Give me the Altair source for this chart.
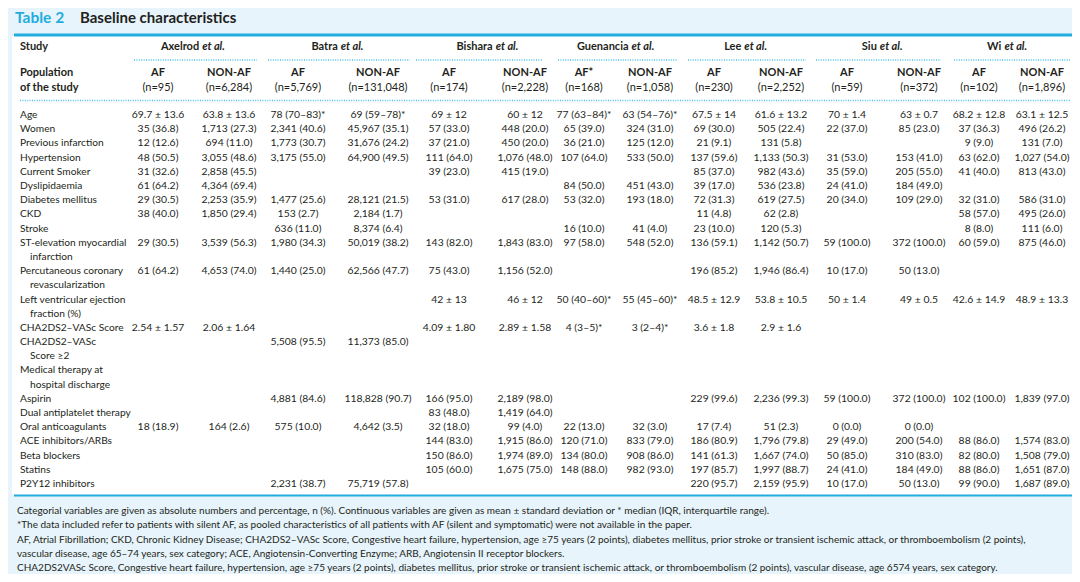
import altair as alt
import pandas as pd

# ---------------- data ----------------
title_number = "Table 2"
title_text = "Baseline characteristics"

studies = ["Axelrod", "Batra", "Bishara", "Guenancia", "Lee", "Siu", "Wi"]
study_suffix = "et al."
af_headers = ["AF", "AF", "AF", "AF*", "AF", "AF", "AF"]
non_af_header = "NON-AF"
n_af = ["(n=95)", "(n=5,769)", "(n=174)", "(n=168)", "(n=230)", "(n=59)", "(n=102)"]
n_non_af = ["(n=6,284)", "(n=131,048)", "(n=2,228)", "(n=1,058)", "(n=2,252)", "(n=372)", "(n=1,896)"]

row_labels = [
    ["Age"], ["Women"], ["Previous infarction"], ["Hypertension"], ["Current Smoker"],
    ["Dyslipidaemia"], ["Diabetes mellitus"], ["CKD"], ["Stroke"],
    ["ST-elevation myocardial", "infarction"],
    ["Percutaneous coronary", "revascularization"],
    ["Left ventricular ejection", "fraction (%)"],
    ["CHA2DS2–VASc Score"],
    ["CHA2DS2–VASc", "Score ≥2"],
    ["Medical therapy at", "hospital discharge"],
    ["Aspirin"], ["Dual antiplatelet therapy"], ["Oral anticoagulants"],
    ["ACE inhibitors/ARBs"], ["Beta blockers"], ["Statins"], ["P2Y12 inhibitors"],
]

axelrod_af = ["69.7 ± 13.6", "35 (36.8)", "12 (12.6)", "48 (50.5)", "31 (32.6)", "61 (64.2)", "29 (30.5)", "38 (40.0)", "", "29 (30.5)", "61 (64.2)", "", "2.54 ± 1.57", "", "", "", "", "18 (18.9)", "", "", "", ""]
axelrod_non = ["63.8 ± 13.6", "1,713 (27.3)", "694 (11.0)", "3,055 (48.6)", "2,858 (45.5)", "4,364 (69.4)", "2,253 (35.9)", "1,850 (29.4)", "", "3,539 (56.3)", "4,653 (74.0)", "", "2.06 ± 1.64", "", "", "", "", "164 (2.6)", "", "", "", ""]
batra_af = ["78 (70–83)*", "2,341 (40.6)", "1,773 (30.7)", "3,175 (55.0)", "", "", "1,477 (25.6)", "153 (2.7)", "636 (11.0)", "1,980 (34.3)", "1,440 (25.0)", "", "", "5,508 (95.5)", "", "4,881 (84.6)", "", "575 (10.0)", "", "", "", "2,231 (38.7)"]
batra_non = ["69 (59–78)*", "45,967 (35.1)", "31,676 (24.2)", "64,900 (49.5)", "", "", "28,121 (21.5)", "2,184 (1.7)", "8,374 (6.4)", "50,019 (38.2)", "62,566 (47.7)", "", "", "11,373 (85.0)", "", "118,828 (90.7)", "", "4,642 (3.5)", "", "", "", "75,719 (57.8)"]
bishara_af = ["69 ± 12", "57 (33.0)", "37 (21.0)", "111 (64.0)", "39 (23.0)", "", "53 (31.0)", "", "", "143 (82.0)", "75 (43.0)", "42 ± 13", "4.09 ± 1.80", "", "", "166 (95.0)", "83 (48.0)", "32 (18.0)", "144 (83.0)", "150 (86.0)", "105 (60.0)", ""]
bishara_non = ["60 ± 12", "448 (20.0)", "450 (20.0)", "1,076 (48.0)", "415 (19.0)", "", "617 (28.0)", "", "", "1,843 (83.0)", "1,156 (52.0)", "46 ± 12", "2.89 ± 1.58", "", "", "2,189 (98.0)", "1,419 (64.0)", "99 (4.0)", "1,915 (86.0)", "1,974 (89.0)", "1,675 (75.0)", ""]
guenancia_af = ["77 (63–84)*", "65 (39.0)", "36 (21.0)", "107 (64.0)", "", "84 (50.0)", "53 (32.0)", "", "16 (10.0)", "97 (58.0)", "", "50 (40–60)*", "4 (3–5)*", "", "", "", "", "22 (13.0)", "120 (71.0)", "134 (80.0)", "148 (88.0)", ""]
guenancia_non = ["63 (54–76)*", "324 (31.0)", "125 (12.0)", "533 (50.0)", "", "451 (43.0)", "193 (18.0)", "", "41 (4.0)", "548 (52.0)", "", "55 (45–60)*", "3 (2–4)*", "", "", "", "", "32 (3.0)", "833 (79.0)", "908 (86.0)", "982 (93.0)", ""]
lee_af = ["67.5 ± 14", "69 (30.0)", "21 (9.1)", "137 (59.6)", "85 (37.0)", "39 (17.0)", "72 (31.3)", "11 (4.8)", "23 (10.0)", "136 (59.1)", "196 (85.2)", "48.5 ± 12.9", "3.6 ± 1.8", "", "", "229 (99.6)", "", "17 (7.4)", "186 (80.9)", "141 (61.3)", "197 (85.7)", "220 (95.7)"]
lee_non = ["61.6 ± 13.2", "505 (22.4)", "131 (5.8)", "1,133 (50.3)", "982 (43.6)", "536 (23.8)", "619 (27.5)", "62 (2.8)", "120 (5.3)", "1,142 (50.7)", "1,946 (86.4)", "53.8 ± 10.5", "2.9 ± 1.6", "", "", "2,236 (99.3)", "", "51 (2.3)", "1,796 (79.8)", "1,667 (74.0)", "1,997 (88.7)", "2,159 (95.9)"]
siu_af = ["70 ± 1.4", "22 (37.0)", "", "31 (53.0)", "35 (59.0)", "24 (41.0)", "20 (34.0)", "", "", "59 (100.0)", "10 (17.0)", "50 ± 1.4", "", "", "", "59 (100.0)", "", "0 (0.0)", "29 (49.0)", "50 (85.0)", "24 (41.0)", "10 (17.0)"]
siu_non = ["63 ± 0.7", "85 (23.0)", "", "153 (41.0)", "205 (55.0)", "184 (49.0)", "109 (29.0)", "", "", "372 (100.0)", "50 (13.0)", "49 ± 0.5", "", "", "", "372 (100.0)", "", "0 (0.0)", "200 (54.0)", "310 (83.0)", "184 (49.0)", "50 (13.0)"]
wi_af = ["68.2 ± 12.8", "37 (36.3)", "9 (9.0)", "63 (62.0)", "41 (40.0)", "", "32 (31.0)", "58 (57.0)", "8 (8.0)", "60 (59.0)", "", "42.6 ± 14.9", "", "", "", "102 (100.0)", "", "", "88 (86.0)", "82 (80.0)", "88 (86.0)", "99 (90.0)"]
wi_non = ["63.1 ± 12.5", "496 (26.2)", "131 (7.0)", "1,027 (54.0)", "813 (43.0)", "", "586 (31.0)", "495 (26.0)", "111 (6.0)", "875 (46.0)", "", "48.9 ± 13.3", "", "", "", "1,839 (97.0)", "", "", "1,574 (83.0)", "1,508 (79.0)", "1,651 (87.0)", "1,687 (89.0)"]

footnotes = [
    "Categorial variables are given as absolute numbers and percentage, n (%). Continuous variables are given as mean ± standard deviation or * median (IQR, interquartile range).",
    "*The data included refer to patients with silent AF, as pooled characteristics of all patients with AF (silent and symptomatic) were not available in the paper.",
    "AF, Atrial Fibrillation; CKD, Chronic Kidney Disease; CHA2DS2–VASc Score, Congestive heart failure, hypertension, age ≥75 years (2 points), diabetes mellitus, prior stroke or transient ischemic attack, or thromboembolism (2 points),",
    "vascular disease, age 65–74 years, sex category; ACE, Angiotensin-Converting Enzyme; ARB, Angiotensin II receptor blockers.",
    "CHA2DS2VASc Score, Congestive heart failure, hypertension, age ≥75 years (2 points), diabetes mellitus, prior stroke or transient ischemic attack, or thromboembolism (2 points), vascular disease, age 6574 years, sex category.",
]

# ---------------- layout (styling only) ----------------
W, H, M = 1064, 566, 8
FONT = "Lato"
INK = "#231f20"
CYAN = "#22ace0"
DOT = "#4cc0ea"
BG = "#e7f4fb"
COL_X = [158, 229, 298, 378, 449, 525, 584, 650, 714, 781, 847, 919, 979, 1042]
GROUP_SPAN = [(134, 257), (268, 410), (416, 542), (558, 677), (688, 806), (816, 941), (954, 1070)]

value_columns = [axelrod_af, axelrod_non, batra_af, batra_non, bishara_af, bishara_non,
                 guenancia_af, guenancia_non, lee_af, lee_non, siu_af, siu_non, wi_af, wi_non]

# ---------------- tables ----------------
label_rows, cont_rows, value_rows = [], [], []
line = 0
for r, parts in enumerate(row_labels):
    label_rows.append({"text": parts[0], "line": line})
    for ci, col in enumerate(value_columns):
        if col[r]:
            value_rows.append({"ci": ci, "line": line, "text": col[r]})
    for extra in parts[1:]:
        line += 1
        cont_rows.append({"text": extra, "line": line})
    line += 1
n_lines = line

head_rows = []
for s in range(len(studies)):
    head_rows.append({"ci": 2 * s, "top": af_headers[s], "n": n_af[s]})
    head_rows.append({"ci": 2 * s + 1, "top": non_af_header, "n": n_non_af[s]})

foot_rows = [{"k": i, "text": t} for i, t in enumerate(footnotes)]

x_scale = alt.Scale(domain=list(range(len(COL_X))), range=[x - M for x in COL_X], nice=False, zero=False)
line_scale = alt.Scale(domain=[0, n_lines - 1], range=[115 - M, 484 - M], nice=False, zero=False)
foot_scale = alt.Scale(domain=[0, len(footnotes) - 1], range=[511 - M, 568 - M], nice=False, zero=False)

X = alt.X("ci:Q", scale=x_scale, axis=None)

def fixed_text(txt, x, y, **kw):
    return alt.Chart(pd.DataFrame({"t": [txt]})).mark_text(
        font=FONT, baseline="middle", **kw
    ).encode(x=alt.value(x - M), y=alt.value(y - M), text="t:N")

def hrule(x1, x2, y, **kw):
    return alt.Chart(pd.DataFrame({"a": [0]})).mark_rule(**kw).encode(
        x=alt.value(x1 - M), x2=alt.value(x2 - M), y=alt.value(y - M))

layers = []
# white body panel
layers.append(alt.Chart(pd.DataFrame({"a": [0]})).mark_rect(color="white").encode(
    x=alt.value(12 - M), x2=alt.value(W), y=alt.value(36 - M), y2=alt.value(495 - M)))
# cyan rules
layers.append(hrule(14, 1080, 35, color=CYAN, strokeWidth=3))
layers.append(hrule(14, 1080, 495.5, color=CYAN, strokeWidth=2))
# dotted separators
for (a, b) in GROUP_SPAN:
    layers.append(hrule(a, b, 60, color=DOT, strokeWidth=1.3, strokeDash=[1, 1.4]))
layers.append(hrule(20, 1070, 100.5, color=DOT, strokeWidth=1.3, strokeDash=[1, 1.4]))

# title
layers.append(fixed_text(title_number, 15, 17.5, align="left", fontSize=15.5, fontWeight="bold", color=CYAN))
layers.append(fixed_text(title_text, 80, 17.5, align="left", fontSize=15, fontWeight="bold", color=INK))

# header left
layers.append(fixed_text("Study", 20, 47, align="left", fontSize=11, fontWeight="bold", color=INK))
layers.append(fixed_text("Population", 20, 72.5, align="left", fontSize=11, fontWeight="bold", color=INK))
layers.append(fixed_text("of the study", 20, 88, align="left", fontSize=11, fontWeight="bold", color=INK))

# study names with italic "et al."
ETAL_W, GAP, CH_W = 27.0, 3.0, 5.9
for s, name in enumerate(studies):
    w_name = CH_W * len(name)
    shift = (w_name - ETAL_W - GAP) / 2.0
    df = pd.DataFrame({"ci": [2 * s + 0.5], "name": [name], "suf": [study_suffix]})
    base = alt.Chart(df)
    layers.append(base.mark_text(font=FONT, fontSize=11, fontWeight="bold", color=INK,
                                 align="right", baseline="middle", dx=shift).encode(
        x=X, y=alt.value(47 - M), text="name:N"))
    layers.append(base.mark_text(font=FONT, fontSize=11, fontWeight="bold", fontStyle="italic",
                                 color=INK, align="left", baseline="middle", dx=shift + GAP).encode(
        x=X, y=alt.value(47 - M), text="suf:N"))

head_df = pd.DataFrame(head_rows)
layers.append(alt.Chart(head_df).mark_text(font=FONT, fontSize=11, fontWeight="bold", color=INK,
                                            baseline="middle").encode(
    x=X, y=alt.value(72.5 - M), text="top:N"))
layers.append(alt.Chart(head_df).mark_text(font=FONT, fontSize=11, color=INK,
                                            baseline="middle").encode(
    x=X, y=alt.value(88 - M), text="n:N"))

# row labels
Y = alt.Y("line:Q", scale=line_scale, axis=None)
layers.append(alt.Chart(pd.DataFrame(label_rows)).mark_text(
    font=FONT, fontSize=10.2, color=INK, align="left", baseline="middle").encode(
    x=alt.value(20 - M), y=Y, text="text:N"))
layers.append(alt.Chart(pd.DataFrame(cont_rows)).mark_text(
    font=FONT, fontSize=10.2, color=INK, align="left", baseline="middle").encode(
    x=alt.value(30 - M), y=Y, text="text:N"))

# values
layers.append(alt.Chart(pd.DataFrame(value_rows)).mark_text(
    font=FONT, fontSize=10.4, color=INK, align="center", baseline="middle").encode(
    x=X, y=Y, text="text:N"))

# footnotes
layers.append(alt.Chart(pd.DataFrame(foot_rows)).mark_text(
    font=FONT, fontSize=10, color=INK, align="left", baseline="middle").encode(
    x=alt.value(17 - M), y=alt.Y("k:Q", scale=foot_scale, axis=None), text="text:N"))

chart = alt.layer(*layers).resolve_scale(y="independent").properties(
    width=W, height=H, padding=0, autosize="none"
).configure(background=BG).configure_view(strokeWidth=0)

chart.save("out.html", embed_options={"renderer": "svg", "actions": False})
